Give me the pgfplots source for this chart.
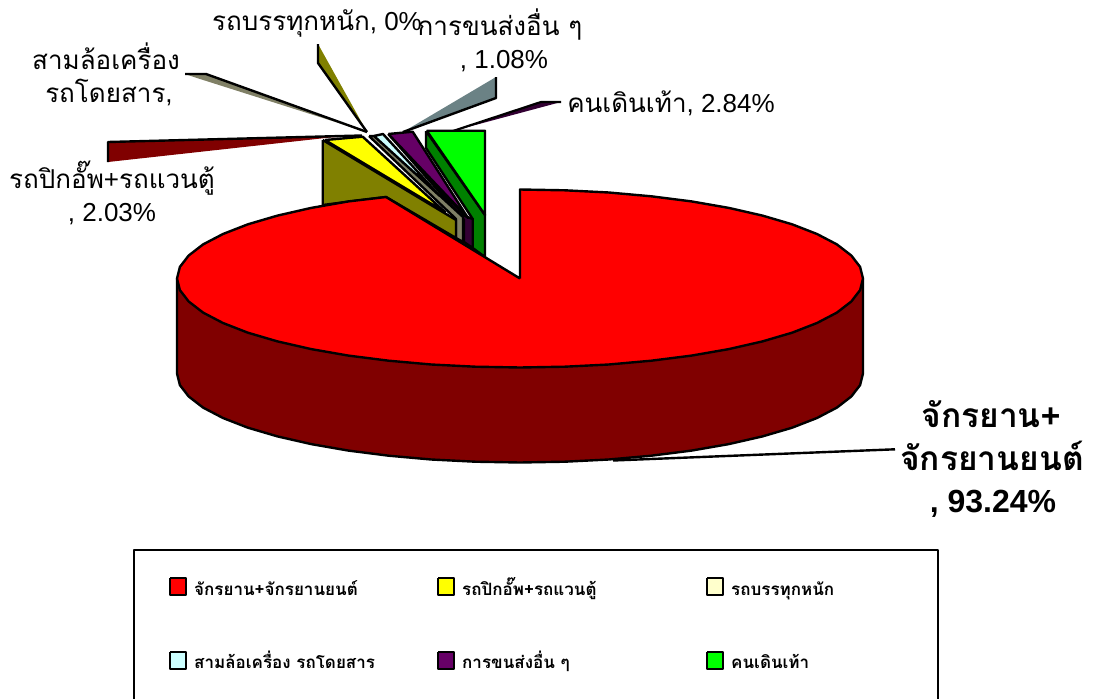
\documentclass[border=0pt]{standalone}
\usepackage{pgfplots}
\usepackage{fontspec}
\pgfplotsset{compat=1.18}
\setmainfont{Liberation Sans}
\newfontfamily\thaifont[Script=Thai]{Loma}
\definecolor{pie1}{RGB}{255,0,0}
\definecolor{pie1d}{RGB}{128,0,0}
\definecolor{pie2}{RGB}{255,255,0}
\definecolor{pie2d}{RGB}{128,128,0}
\definecolor{pie3}{RGB}{255,255,204}
\definecolor{pie3d}{RGB}{128,128,102}
\definecolor{pie4}{RGB}{204,255,255}
\definecolor{pie5}{RGB}{102,0,102}
\definecolor{pie5d}{RGB}{51,0,51}
\definecolor{pie6}{RGB}{0,255,0}
\definecolor{pie6d}{RGB}{0,128,0}
\definecolor{lead5}{RGB}{107,130,133}
\newcommand{\T}[1]{{\thaifont #1}}
\begin{document}
\begin{tikzpicture}
\begin{axis}[
  scale only axis, width=1093pt, height=699pt,
  xmin=0, xmax=1093, ymin=0, ymax=699, y dir=reverse,
  hide axis, clip=false,
  every axis plot/.append style={line join=round, mark=none},
  solid/.style={draw=black, line width=2.4pt},
]
% leader wedges
\addplot[fill=pie1d, draw=none] coordinates {(108,142)(108,162)(330,137.5)(362,135.5)(108,142)};
\addplot[draw=black, line width=2.4pt] coordinates {(108,162)(108,142)(362,135.5)};
\addplot[fill=pie3d, draw=none] coordinates {(185,74)(206,74)(367,132)(200,79)(185,74)};
\addplot[draw=black, line width=2.4pt] coordinates {(185,74)(206,74)(367,132)};
\addplot[fill=pie2d, draw=none] coordinates {(318,44)(318,63)(367,132)(318,44)};
\addplot[draw=black, line width=2.4pt] coordinates {(318,44)(318,63)(367,132)};
\addplot[fill=lead5, draw=none] coordinates {(496,77)(496,98)(403,132)(496,77)};
\addplot[draw=black, line width=2.4pt] coordinates {(496,77)(496,98)(403,132)};
\addplot[fill=pie5d, draw=none] coordinates {(541,102)(561,102)(453,131)(541,102)};
\addplot[draw=black, line width=2.2pt] coordinates {(453,131)(541,102)(561,102)};
\addplot[draw=black, line width=2.4pt] coordinates {(895,449.3)(613,460.5)};
% small slices
\addplot[fill=pie6d, solid] coordinates {(426,131)(426,148)(472.7,219)(472.7,248)(485,257)(485,215)(426,131)};
\addplot[fill=pie6, solid] coordinates {(426.7,130.7)(485,130.7)(485,215)(426.7,130.7)};
\addplot[fill=pie5d, solid] coordinates {(388.3,134)(465,216)(472.7,219)(472.7,248)(464,242)(464,220)(388.3,134)};
\addplot[fill=pie5, solid] coordinates {(388.3,134)(412.7,131.7)(468,218)(388.3,134)};
\addplot[fill=pie3d, solid] coordinates {(369,136)(375,136)(463,217)(463,242)(456,238)(456,219)(369,136)};
\addplot[fill=pie4, solid] coordinates {(374,136)(383,134)(440,196)(374,136)};
\addplot[fill=pie2d, solid] coordinates {(322.7,140)(456,220)(456,238)(386,197)(322.7,205)(322.7,140)};
\addplot[fill=pie2, solid] coordinates {(325,140)(362.7,136.7)(445,212)(325,140)};
% big slice side wall
\addplot[fill=pie1d, solid] coordinates {(863,278.5)(863,373.5)(860.1,385.1)(851.3,396.5)(836.9,407.6)(817,418)(792.1,427.7)(762.5,436.4)(728.8,444.1)(691.5,450.6)(651.3,455.7)(608.8,459.5)(564.8,461.7)(520,462.5)(475.2,461.7)(431.2,459.5)(388.7,455.7)(348.5,450.6)(311.2,444.1)(277.5,436.4)(247.9,427.7)(223,418)(203.1,407.6)(188.7,396.5)(179.9,385.1)(177,373.5)(177,278.5)(863,278.5)};
% big slice top
\addplot[fill=pie1, solid] coordinates {(520,278.5)(520,189.5)(564.8,190.3)(608.8,192.5)(651.3,196.3)(691.5,201.4)(728.8,207.9)(762.5,215.6)(792.1,224.3)(817,234)(836.9,244.4)(851.3,255.5)(860.1,266.9)(863,278.5)(860.1,290.1)(851.3,301.5)(836.9,312.6)(817,323)(792.1,332.7)(762.5,341.4)(728.8,349.1)(691.5,355.6)(651.3,360.7)(608.8,364.5)(564.8,366.7)(520,367.5)(475.2,366.7)(431.2,364.5)(388.7,360.7)(348.5,355.6)(311.2,349.1)(277.5,341.4)(247.9,332.7)(223,323)(203.1,312.6)(188.7,301.5)(179.9,290.1)(177,278.5)(179.9,266.9)(188.7,255.5)(203.1,244.4)(223,234)(247.9,224.3)(277.5,215.6)(311.2,207.9)(348.5,201.4)(386,197)(520,278.5)};
% legend box, open at the lower edge of the picture
\addplot[draw=black, line width=2.4pt] coordinates {(134,699)(134,550)(938,550)(938,699)};
% legend swatches
\addplot[fill=pie1, draw=black, line width=1.8pt] coordinates {(170,578)(186,578)(186,595)(170,595)(170,578)};
\addplot[fill=pie2, draw=black, line width=1.8pt] coordinates {(438,578)(454,578)(454,595)(438,595)(438,578)};
\addplot[fill=pie3, draw=black, line width=1.8pt] coordinates {(707,578)(723,578)(723,595)(707,595)(707,578)};
\addplot[fill=pie4, draw=black, line width=1.8pt] coordinates {(170,652)(186,652)(186,669)(170,669)(170,652)};
\addplot[fill=pie5, draw=black, line width=1.8pt] coordinates {(438,652)(454,652)(454,669)(438,669)(438,652)};
\addplot[fill=pie6, draw=black, line width=1.8pt] coordinates {(707,652)(723,652)(723,669)(707,669)(707,652)};
% labels
\tikzset{lab/.style={anchor=base, inner sep=0pt, font=\fontsize{26}{33}\selectfont},
         blab/.style={anchor=base, inner sep=0pt, font=\fontsize{33.5}{33.5}\selectfont\bfseries},
         leg/.style={anchor=base west, inner sep=0pt, font=\fontsize{17}{17}\selectfont\bfseries}}
\node[lab] at (axis cs:317,30) {\T{รถบรรทุกหนัก}, 0\%};
\node[lab] at (axis cs:500,35) {\T{การขนส่งอื่น ๆ}};
\node[lab] at (axis cs:504,68) {, 1.08\%};
\node[lab] at (axis cs:106,69) {\T{สามล้อเครื่อง}};
\node[lab] at (axis cs:109,102) {\T{รถโดยสาร},};
\node[lab, align=center] at (axis cs:112,221) {\T{รถปิกอั๊พ}+\T{รถแวนตู้}\\, 2.03\%};
\node[lab] at (axis cs:671,112) {\T{คนเดินเท้า}, 2.84\%};
\node[blab] at (axis cs:991,427) {\T{จักรยาน}+};
\node[blab] at (axis cs:992,470) {\T{จักรยานยนต์}};
\node[blab, font=\fontsize{32}{32}\selectfont\bfseries] at (axis cs:993,512) {, 93.24\%};
\node[leg] at (axis cs:194,595) {\T{จักรยาน+จักรยานยนต์}};
\node[leg] at (axis cs:462,595) {\T{รถปิกอั๊พ+รถแวนตู้}};
\node[leg] at (axis cs:731,595) {\T{รถบรรทุกหนัก}};
\node[leg] at (axis cs:194,668) {\T{สามล้อเครื่อง รถโดยสาร}};
\node[leg] at (axis cs:462,668) {\T{การขนส่งอื่น ๆ}};
\node[leg] at (axis cs:731,668) {\T{คนเดินเท้า}};
\end{axis}
\pgfresetboundingbox
\useasboundingbox (0,0) rectangle (1093pt,699pt);
\end{tikzpicture}
\end{document}
